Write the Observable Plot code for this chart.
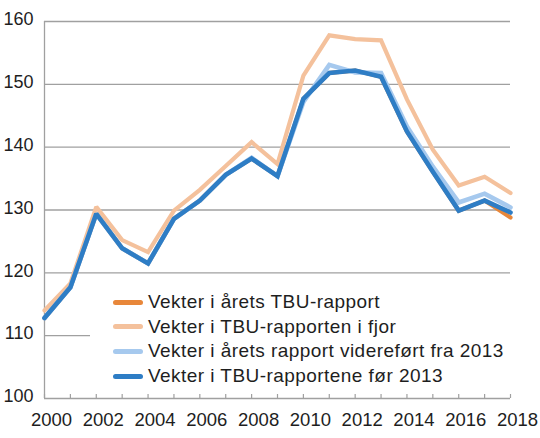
<!DOCTYPE html>
<html>
<head>
<meta charset="utf-8">
<script src="https://cdn.jsdelivr.net/npm/d3@7"></script>
<script src="https://cdn.jsdelivr.net/npm/@observablehq/plot@0.6"></script>
<style>
  body { margin: 0; background: #fff; }
  #chart { position: relative; width: 540px; height: 438px; font-family: "Liberation Sans", Arial, sans-serif; }
  #legend { position: absolute; left: 90px; top: 285px; width: 425px; height: 105px; background: #fff;
            padding: 5px 0 0 23px; box-sizing: border-box; }
  .row { display: flex; align-items: center; height: 24.6px; font-size: 19px; letter-spacing: 0.45px; color: #1e1e1e; white-space: nowrap; }
  .sw { width: 30px; height: 5px; border-radius: 3px; margin-right: 5px; flex: none; }
</style>
</head>
<body>
<div id="chart"><div id="legend"></div></div>
<script>
// år 2000-2018
const years = d3.range(2000, 2019);
const xLabels = d3.range(2000, 2019, 2);
const yTicks = [100, 110, 120, 130, 140, 150, 160];

const serieNavn = [
  "Vekter i årets TBU-rapport",
  "Vekter i TBU-rapporten i fjor",
  "Vekter i årets rapport videreført fra 2013",
  "Vekter i TBU-rapportene før 2013"
];
const farger = ["#e8873a", "#f4c19c", "#a6c9ee", "#2e7dc5"];

const aaretsTBU   = [112.8, 117.7, 129.4, 123.9, 121.5, 128.6, 131.5, 135.6, 138.2, 135.4, 147.7, 151.8, 152.2, 151.2, 142.5, 136.1, 129.9, 131.5, 128.8];
const iFjor       = [114.0, 118.3, 130.5, 125.2, 123.3, 129.9, 133.2, 137.0, 140.8, 137.3, 151.4, 157.8, 157.2, 157.0, 147.6, 139.6, 133.9, 135.3, 132.7];
const videreFort  = [112.8, 117.7, 129.4, 123.9, 121.5, 128.6, 131.5, 135.6, 138.3, 135.4, 147.2, 153.1, 151.9, 151.8, 143.3, 136.9, 131.2, 132.6, 130.4];
const forTBU2013  = [112.8, 117.7, 129.4, 123.9, 121.5, 128.6, 131.5, 135.6, 138.2, 135.4, 147.7, 151.8, 152.2, 151.2, 142.5, 136.1, 129.9, 131.5, 129.6];

const serier = [aaretsTBU, iFjor, videreFort, forTBU2013];
const bredder = [4.2, 4.2, 4.6, 4.6];

const rader = serier.map(s => years.map((y, i) => ({year: y, value: s[i]})));

let chart = Plot.plot({
  width: 540,
  height: 438,
  marginLeft: 44,
  marginRight: 30,
  marginTop: 21,
  marginBottom: 40,
  x: {domain: [2000, 2018], label: null},
  y: {domain: [100, 160], label: null},
  style: {fontFamily: "Liberation Sans, Arial, sans-serif", fontSize: "18px", color: "#1e1e1e", background: "#fff"},
  marks: [
    Plot.gridY(yTicks.slice(1), {stroke: "#a0a0a0", strokeOpacity: 1, strokeWidth: 1.3}),
    Plot.ruleX(years, {x: d => d, insetTop: 373, stroke: "#a0a0a0", strokeWidth: 1.2}),
    Plot.ruleY([yTicks[0]], {stroke: "#a0a0a0", strokeWidth: 1.3}),
    Plot.ruleX([years[0]], {stroke: "#a0a0a0", strokeWidth: 1.3}),
    Plot.axisY(yTicks, {tickSize: 0, tickPadding: 11, dy: -2, fontSize: 18, label: null}),
    Plot.axisX(xLabels, {tickSize: 0, tickPadding: 14, dx: 7, fontSize: 18.5, label: null, tickFormat: d => String(d)}),
    ...rader.map((r, i) => Plot.line(r, {x: "year", y: "value", stroke: farger[i], strokeWidth: bredder[i], strokeLinejoin: "miter", strokeMiterlimit: 2}))
  ]
});
d3.select("#chart").insert(() => chart, "#legend");

// forklaring
const leg = d3.select("#legend");
serieNavn.forEach((n, i) => {
  const row = leg.append("div").attr("class", "row");
  row.append("div").attr("class", "sw").style("background", farger[i]);
  row.append("span").text(n);
});
</script>
</body>
</html>
